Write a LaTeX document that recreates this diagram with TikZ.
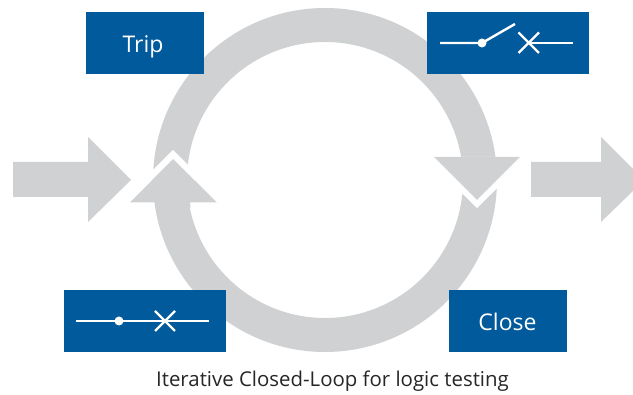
\documentclass[tikz,border=0pt]{standalone}
\usepackage{fontspec}
\setmainfont{Open Sans}
\definecolor{ringgray}{HTML}{D0D1D3}
\definecolor{boxblue}{HTML}{005A9C}
\tikzset{
  bluebox/.style={fill=boxblue,draw=none,inner sep=0pt,minimum height=62pt},
  boxlabel/.style={text=white,inner sep=0pt,font=\fontsize{23}{26}\selectfont},
  symline/.style={draw=white,line width=2.4pt},
  grayfill/.style={fill=ringgray,draw=none},
  whitefill/.style={fill=white,draw=none},
}
\begin{document}
\begin{tikzpicture}[x=1pt,y=-1pt]
\useasboundingbox (0,0) rectangle (633,395);
% ring
\fill[ringgray,even odd rule] (325,180) circle (172pt) (325,180) circle (138pt);
% white gaps
\fill[whitefill] (173,150) -- (225,202) -- (121,202) -- cycle;
\fill[whitefill] (477,208) -- (425,157) -- (529,157) -- cycle;
% arrow heads on ring
\fill[grayfill] (173,159) -- (217,202.5) -- (190,202.5) -- (190.5,208) -- (155.5,208) -- (155,202.5) -- (130,202.5) -- cycle;
\fill[grayfill] (434,157) -- (520,157) -- (477,200) -- cycle;
% in / out arrows
\fill[grayfill] (13,162) -- (88,162) -- (88,137) -- (131,180) -- (88,222) -- (88,197) -- (13,197) -- cycle;
\fill[grayfill] (531,162) -- (601,162) -- (601,137) -- (633,169) -- (633,191) -- (601,222) -- (601,197) -- (531,197) -- cycle;
% boxes
\node[bluebox,minimum width=118pt] (trip) at (145,43) {};
\node[boxlabel] (triplabel) at (143,47) {\vphantom{C}Trip};
\node[bluebox,minimum width=118pt] (close) at (508,321) {};
\node[boxlabel] (closelabel) at (507.5,325) {\vphantom{p}Close};
\node[bluebox,minimum width=162pt] (open) at (508,43) {};
\node[bluebox,minimum width=162pt] (closed) at (145,321) {};
% switch symbol, open
\coordinate (oL) at (440,43);
\coordinate (oD) at (482,43);
\coordinate (oB) at (515,24);
\coordinate (oR) at (573,43);
\coordinate (oX) at (529,43);
\draw[symline] (oL) -- (oD) -- (oB);
\draw[symline] (oX) -- (oR);
\draw[symline] (518.5,32.5) -- (539,53) (539,32.5) -- (518.5,53);
\fill[white] (oD) circle (4.5pt);
% switch symbol, closed
\coordinate (cL) at (76,321);
\coordinate (cR) at (209,321);
\coordinate (cD) at (119,321);
\draw[symline] (cL) -- (cR);
\draw[symline] (155,311) -- (175,331) (175,311) -- (155,331);
\fill[white] (cD) circle (4.5pt);
% caption
\node[inner sep=0pt,font=\fontsize{20.4}{24}\selectfont,text=black!85] (cap) at (332.5,381) {Iterative Closed-Loop for logic testing};
\end{tikzpicture}
\end{document}
